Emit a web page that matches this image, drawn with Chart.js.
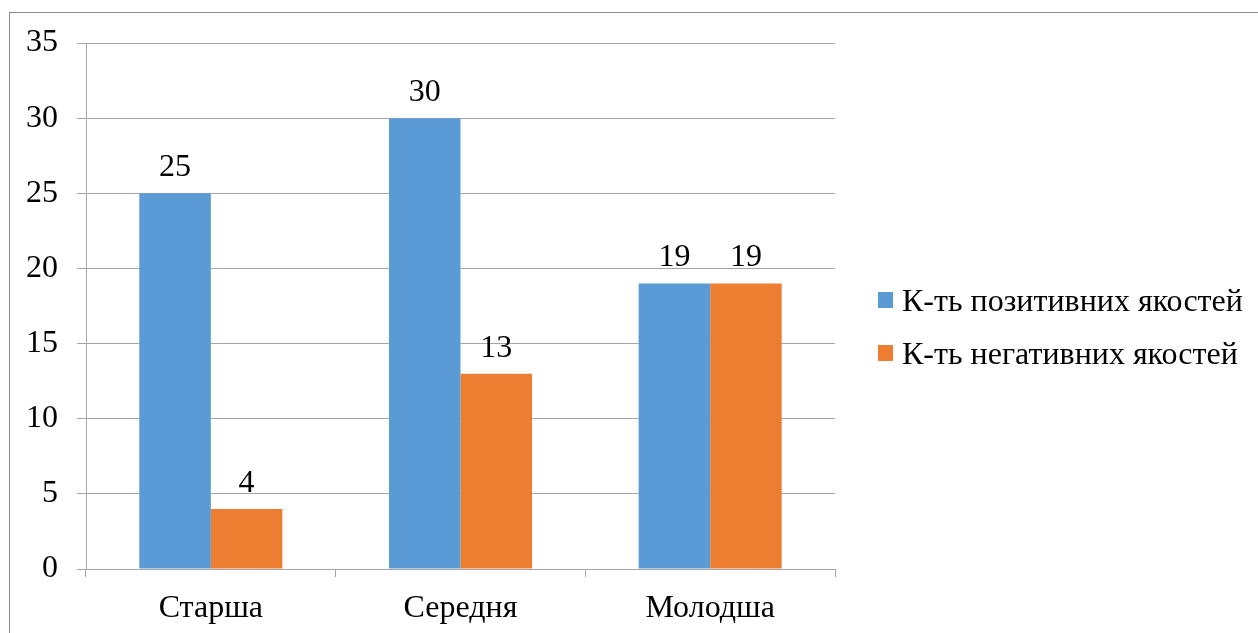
<!DOCTYPE html>
<html>
<head>
<meta charset="utf-8">
<script src="https://cdn.jsdelivr.net/npm/chart.js@4.4.0/dist/chart.umd.min.js"></script>
<style>
  html, body { margin: 0; padding: 0; background: #ffffff; overflow: hidden; }
  #wrap { position: relative; width: 1258px; height: 633px; overflow: hidden; }
  #frame { position: absolute; left: 9px; top: 12px; width: 1300px; height: 700px; border-left: 1px solid #8c8c8c; border-top: 1px solid #8c8c8c; box-sizing: border-box; pointer-events: none; }
  canvas { position: absolute; left: 0; top: 0; }
  #legend { position: absolute; left: 878px; top: 281px; font-family: 'Liberation Serif', 'Times New Roman', serif; font-size: 32px; color: #000; }
  .item { position: relative; height: 53px; line-height: 38px; white-space: nowrap; }
  .sw { position: absolute; left: 0; top: 11px; width: 15px; height: 16px; }
  .lbl { position: absolute; left: 24px; top: 0; }
</style>
</head>
<body>
<div id="wrap">
  <canvas id="c" width="1258" height="633"></canvas>
  <div id="frame"></div>
  <div id="legend"></div>
</div>
<script>
const categories = ["Старша", "Середня", "Молодша"];
const positiveLabel = "К-ть позитивних якостей";
const negativeLabel = "К-ть негативних якостей";
const positiveValues = [25, 30, 19];
const negativeValues = [4, 13, 19];
const yTicks = [0, 5, 10, 15, 20, 25, 30, 35];

const FONT = "'Liberation Serif', 'Times New Roman', serif";
const BLUE = '#5B9BD5';
const ORANGE = '#ED7D31';
const GRID = '#A6A6A6';

const valueLabels = {
  id: 'valueLabels',
  afterDatasetsDraw(chart) {
    const ctx = chart.ctx;
    ctx.save();
    ctx.font = "32px " + FONT;
    ctx.fillStyle = '#000';
    ctx.textAlign = 'center';
    ctx.textBaseline = 'alphabetic';
    chart.data.datasets.forEach((ds, i) => {
      const meta = chart.getDatasetMeta(i);
      meta.data.forEach((bar, j) => {
        ctx.fillText(String(ds.data[j]), bar.x, bar.y - 17);
      });
    });
    ctx.restore();
  }
};

const chart = new Chart(document.getElementById('c'), {
  type: 'bar',
  data: {
    labels: categories,
    datasets: [
      { label: positiveLabel, data: positiveValues, backgroundColor: BLUE, borderWidth: 0 },
      { label: negativeLabel, data: negativeValues, backgroundColor: ORANGE, borderWidth: 0 }
    ]
  },
  options: {
    responsive: false,
    animation: false,
    devicePixelRatio: 1,
    layout: { padding: { top: 43, right: 423, left: 0, bottom: 0 } },
    plugins: {
      legend: { display: false },
      tooltip: { enabled: false }
    },
    datasets: {
      bar: { categoryPercentage: 0.573, barPercentage: 1.0 }
    },
    scales: {
      x: {
        offset: true,
        grid: { display: true, drawOnChartArea: false, drawTicks: true, tickLength: 8, color: GRID, offset: true, lineWidth: 1 },
        border: { display: true, color: GRID, width: 1 },
        ticks: { font: { family: FONT, size: 32 }, color: '#000', padding: 12 },
        afterFit(scale) { scale.height = 64; }
      },
      y: {
        min: 0, max: 35,
        afterBuildTicks(scale) { scale.ticks = yTicks.map(v => ({ value: v })); },
        grid: { color: GRID, tickLength: 9, lineWidth: 1 },
        border: { display: true, color: GRID, width: 1 },
        ticks: { font: { family: FONT, size: 32 }, color: '#000', padding: 19 },
        afterFit(scale) { scale.width = 86; }
      }
    }
  },
  plugins: [valueLabels]
});

const legendEl = document.getElementById('legend');
chart.data.datasets.forEach(ds => {
  const item = document.createElement('div');
  item.className = 'item';
  const sw = document.createElement('span');
  sw.className = 'sw';
  sw.style.background = ds.backgroundColor;
  const lbl = document.createElement('span');
  lbl.className = 'lbl';
  lbl.textContent = ds.label;
  item.appendChild(sw);
  item.appendChild(lbl);
  legendEl.appendChild(item);
});
</script>
</body>
</html>
